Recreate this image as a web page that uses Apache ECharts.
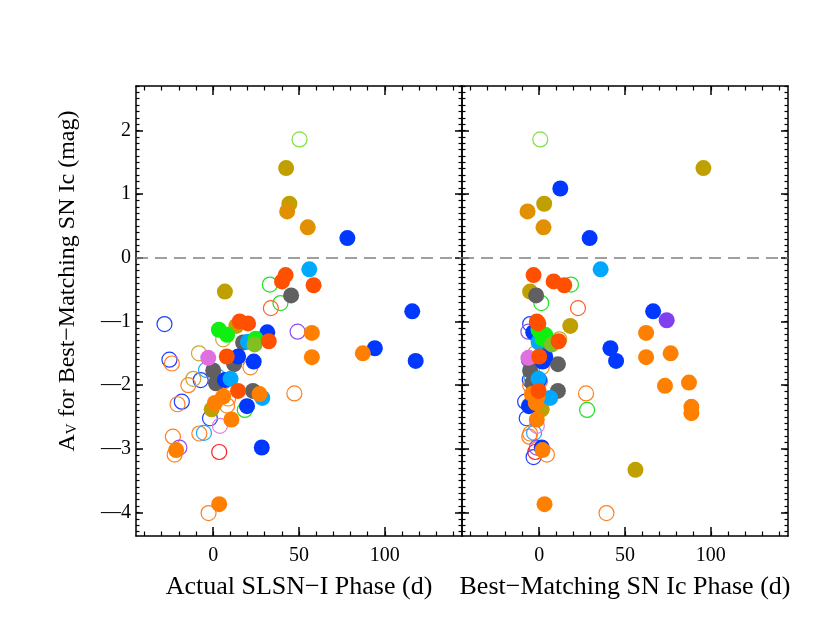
<!DOCTYPE html>
<html>
<head>
<meta charset="utf-8">
<script src="https://cdn.jsdelivr.net/npm/echarts@6/dist/echarts.min.js"></script>
<style>
  html, body { margin: 0; padding: 0; background: #fff; }
  #chart { width: 830px; height: 623px; }
</style>
</head>
<body>
<div id="chart"></div>
<script>
// each point: [actual SLSN-I phase, best-matching SN Ic phase, A_V]; null = off the plotted range
const oliveFilled = [[42.5, 95.7, 1.41], [44.4, 2.9, 0.85], [6.8, -5.3, -0.53], [13.5, 18.1, -1.07], [-0.9, 1.5, -2.38], [null, 56.1, -3.33]]
const amberFilled = [[43.1, -6.8, 0.73], [55.1, 2.5, 0.48]]
const orangeFilled = [[57.5, 62.3, -1.18], [57.5, 62.3, -1.56], [87.2, 76.6, -1.50], [27, -4.3, -2.14], [5.8, -1, -2.18], [1, -2, -2.28],
  [10.6, -1.4, -2.54], [-21.6, 1.9, -3.02], [3.5, 3.1, -3.87], [null, 73.3, -2.01], [null, 87.3, -1.96], [null, 88.7, -2.34], [null, 88.7, -2.44]]
const redOrangeFilled = [[42.2, -3.3, -0.27], [40.1, 8.4, -0.37], [58.5, 14.6, -0.43], [15.4, -1.4, -1.0], [20.3, -0.5, -1.03],
  [32.4, 11.3, -1.31], [7.9, 0, -1.55], [14.5, -0.4, -2.09]]
const blueFilled = [[78.2, 29.4, 0.31], [null, 12.3, 1.09], [116, 66.4, -0.84], [31.5, -3.5, -1.17], [94.2, 41.5, -1.42], [118, 44.8, -1.62],
  [14.5, 3.5, -1.55], [23.6, 2, -1.63], [6.8, 0, -1.92], [19.7, -6, -2.33], [28.3, 1.5, -2.98]]
const lightBlueFilled = [[56, 35.8, -0.18], [20.3, -0.4, -1.32], [10.1, -0.4, -1.90], [28.6, 6.4, -2.20]]
const grayFilled = [[45.4, -1.8, -0.59], [17.4, 0, -1.33], [12.2, 10.9, -1.67], [0, -5.3, -1.77], [1.6, -4, -1.97], [23.2, 10.9, -2.09]]
const greenFilled = [[3.3, -0.4, -1.13], [8.1, 3.5, -1.21], [24.7, 2, -1.27]]
const yellowGreenFilled = [[24.1, 7.4, -1.36]]
const orchidFilled = [[-2.9, -6.3, -1.57]]
const purpleFilled = [[null, 74.3, -0.98]]

const lightGreenOpen = [[50.3, 0.6, 1.86]]
const greenOpen = [[33, 18.5, -0.42], [39.2, 1.2, -0.71], [18.4, 27.9, -2.39]]
const redOrangeOpen = [[33.6, 22.6, -0.79]]
const redOpen = [[3.5, -2.3, -3.05]]
const blueOpen = [[-28.4, -5.3, -1.04], [-25.5, -6, -1.60], [-7.3, -5.5, -1.92], [-18.3, -8.2, -2.26], [-1.9, -7.3, -2.52], [null, -3.3, -3.13]]
const orangeOpen = [[-24.1, -4.5, -1.66], [21.7, 1.5, -1.72], [-14.5, -5.3, -2.0], [6.4, 0.5, -1.94], [47.3, 27.3, -2.13], [-20.8, -5.3, -2.30],
  [8.7, 1, -2.21], [8.1, -3, -2.32], [-8.1, -5.3, -2.76], [-23.5, -5.8, -2.81], [-22.5, 4.5, -3.09], [-2.7, 39.2, -4.01]]
const oliveOpen = [[5.8, 11.7, -1.28], [-8.3, -2.3, -1.50], [-11.6, -3, -1.90]]
const lightBlueOpen = [[-4.2, -4.3, -1.76], [2.9, -4.5, -1.87], [-5.4, -3, -2.75]]
const purpleOpen = [[49.2, -6.3, -1.16], [-19.7, -1.4, -2.98]]
const orchidOpen = [[3.9, -1.4, -2.64]]

const xLabelValues = [0, 50, 100]
const yLabelValues = [-4, -3, -2, -1, 0, 1, 2]
const xTitles = ['Actual SLSN\u2212I Phase (d)', 'Best\u2212Matching SN Ic Phase (d)']

// open circles first so the filled ones sit on top
const groups = [
  { pts: lightGreenOpen, color: '#80e040', open: true },
  { pts: greenOpen, color: '#20e020', open: true },
  { pts: redOrangeOpen, color: '#ff6030', open: true },
  { pts: redOpen, color: '#ff2020', open: true },
  { pts: blueOpen, color: '#2040ff', open: true },
  { pts: orangeOpen, color: '#ff8020', open: true },
  { pts: oliveOpen, color: '#c8a830', open: true },
  { pts: lightBlueOpen, color: '#20a8ff', open: true },
  { pts: purpleOpen, color: '#9050f0', open: true },
  { pts: orchidOpen, color: '#e080e0', open: true },
  { pts: oliveFilled, color: '#c0a000' },
  { pts: amberFilled, color: '#e09000' },
  { pts: grayFilled, color: '#606060' },
  { pts: blueFilled, color: '#0038ff' },
  { pts: lightBlueFilled, color: '#00a8ff' },
  { pts: greenFilled, color: '#10f010' },
  { pts: yellowGreenFilled, color: '#80c020' },
  { pts: orchidFilled, color: '#e070e0' },
  { pts: purpleFilled, color: '#8040f0' },
  { pts: orangeFilled, color: '#ff8000' },
  { pts: redOrangeFilled, color: '#ff5000' }
]

const xMin = -45, xMax = 145
const yMin = -4.37, yMax = 2.7
const font = 'Liberation Serif'

const xMinor = []
for (let v = -40; v <= 140; v += 10) xMinor.push(v)
const yMinor = []
for (let i = -43; i <= 27; i++) yMinor.push(i / 10)

// IDL draws a long minus sign
const minus = v => String(v).replace('-', '\u2014')

const frame = { show: true, onZero: false, lineStyle: { color: '#000', width: 1.5 } }
const noLine = { show: false, onZero: false }

const xAxes = []
const yAxes = []
const series = []

for (let g = 0; g < 2; g++) {
  const base = { gridIndex: g, type: 'value', min: xMin, max: xMax, splitLine: { show: false } }
  // bottom: major with labels, then minor; same again on top
  xAxes.push(Object.assign({}, base, {
    position: 'bottom',
    name: xTitles[g], nameLocation: 'middle', nameGap: 38,
    nameTextStyle: { fontFamily: font, fontSize: 26, color: '#000' },
    axisLine: frame,
    axisTick: { inside: true, length: 9, customValues: xLabelValues, lineStyle: { color: '#000', width: 1.5 } },
    axisLabel: { customValues: xLabelValues, margin: 10, fontFamily: font, fontSize: 20, color: '#000' }
  }))
  xAxes.push(Object.assign({}, base, {
    position: 'bottom', axisLine: noLine, axisLabel: { show: false },
    axisTick: { inside: true, length: 4.5, customValues: xMinor, lineStyle: { color: '#000', width: 1.2 } }
  }))
  xAxes.push(Object.assign({}, base, {
    position: 'top', axisLabel: { show: false }, axisLine: frame,
    axisTick: { inside: true, length: 9, customValues: xLabelValues, lineStyle: { color: '#000', width: 1.5 } }
  }))
  xAxes.push(Object.assign({}, base, {
    position: 'top', axisLine: noLine, axisLabel: { show: false },
    axisTick: { inside: true, length: 4.5, customValues: xMinor, lineStyle: { color: '#000', width: 1.2 } }
  }))

  const ybase = { gridIndex: g, type: 'value', min: yMin, max: yMax, splitLine: { show: false } }
  yAxes.push(Object.assign({}, ybase, {
    position: 'left', axisLine: frame,
    axisTick: { inside: true, length: 7, customValues: yLabelValues, lineStyle: { color: '#000', width: 1.5 } },
    axisLabel: g === 0
      ? { customValues: yLabelValues, margin: 5, fontFamily: font, fontSize: 20, color: '#000', formatter: minus }
      : { show: false }
  }))
  yAxes.push(Object.assign({}, ybase, {
    position: 'left', axisLine: noLine, axisLabel: { show: false },
    axisTick: { inside: true, length: 3.5, customValues: yMinor, lineStyle: { color: '#000', width: 1.2 } }
  }))
  yAxes.push(Object.assign({}, ybase, {
    position: 'right', axisLabel: { show: false }, axisLine: frame,
    axisTick: { inside: true, length: 7, customValues: yLabelValues, lineStyle: { color: '#000', width: 1.5 } }
  }))
  yAxes.push(Object.assign({}, ybase, {
    position: 'right', axisLine: noLine, axisLabel: { show: false },
    axisTick: { inside: true, length: 3.5, customValues: yMinor, lineStyle: { color: '#000', width: 1.2 } }
  }))

  groups.forEach((grp, i) => {
    const data = grp.pts.filter(p => p[g] !== null).map(p => [p[g], p[2]])
    const s = {
      type: 'scatter',
      xAxisIndex: g * 4,
      yAxisIndex: g * 4,
      symbol: 'circle',
      symbolSize: grp.open ? 15 : 16,
      clip: true,
      silent: true,
      data: data,
      itemStyle: grp.open
        ? { color: 'rgba(0,0,0,0)', borderColor: grp.color, borderWidth: 1.2, opacity: 1 }
        : { color: grp.color, opacity: 1 }
    }
    if (i === 0) {
      // A_V = 0 reference line
      s.markLine = {
        silent: true, symbol: 'none', animation: false,
        label: { show: false },
        lineStyle: { color: '#808080', type: [12, 7], width: 1.5 },
        data: [{ yAxis: 0 }]
      }
    }
    series.push(s)
  })
}

const chart = echarts.init(document.getElementById('chart'), null, { renderer: 'canvas' })
chart.setOption({
  animation: false,
  backgroundColor: '#fff',
  grid: [
    { left: 136, top: 86, width: 326, height: 450 },
    { left: 462, top: 86, width: 326, height: 450 }
  ],
  xAxis: xAxes,
  yAxis: yAxes,
  series: series,
  graphic: [{
    type: 'text',
    x: 68,
    y: 281,
    rotation: Math.PI / 2,
    style: {
      text: '{a|A}{s|V}{a| for Best\u2212Matching SN Ic (mag)}',
      align: 'center',
      verticalAlign: 'middle',
      fill: '#000',
      rich: {
        a: { fontFamily: font, fontSize: 24, fill: '#000' },
        s: { fontFamily: font, fontSize: 15, fill: '#000', verticalAlign: 'bottom' }
      }
    }
  }]
})
</script>
</body>
</html>
